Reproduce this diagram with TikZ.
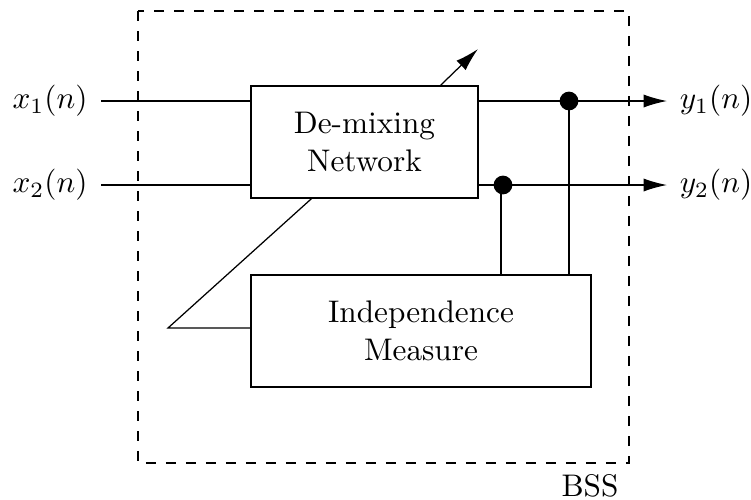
\documentclass[tikz,border=0pt]{standalone}
\usetikzlibrary{arrows.meta}
\begin{document}
\begin{tikzpicture}[x=0.32pt,y=-0.32pt,
  blk/.style={draw,line width=0.4pt,minimum width=227*0.32pt,minimum height=112*0.32pt,align=center,inner sep=0pt},
  wire/.style={line width=0.4pt},
  arr/.style={wire,-{Latex[length=7.5pt,width=4.2pt]}},
  jdot/.style={circle,fill,inner sep=0pt,minimum size=6pt},
  lbl/.style={inner sep=0pt}]
\useasboundingbox (0,0) rectangle (751,499);
% outer BSS boundary
\draw[line width=0.4pt,dash pattern=on 3.2pt off 3.2pt] (138,11) rectangle (629,463);
\node[lbl] (bss) at (590,486) {BSS};
% blocks
\node[blk] (dmx) at (364.5,142) {De-mixing\\Network};
\node[blk,minimum width=340*0.32pt] (ind) at (421,331) {Independence\\Measure};
% inputs
\node[lbl] (x1) at (50,101) {$x_1(n)$};
\node[lbl] (x2) at (50,185) {$x_2(n)$};
\coordinate (x1s) at (101,101);
\coordinate (x2s) at (101,185);
\draw[wire] (x1s) -- (x1s -| dmx.west);
\draw[wire] (x2s) -- (x2s -| dmx.west);
% outputs
\node[lbl] (y1) at (716,101) {$y_1(n)$};
\node[lbl] (y2) at (716,185) {$y_2(n)$};
\coordinate (y1e) at (667,101);
\coordinate (y2e) at (667,185);
\draw[arr] (dmx.east |- y1e) -- (y1e);
\draw[arr] (dmx.east |- y2e) -- (y2e);
% taps to the independence measure
\node[jdot] (j1) at (569,101) {};
\node[jdot] (j2) at (503,185) {};
\draw[wire] (j1.center) -- (j1.center |- ind.north);
\draw[wire] ([xshift=-0.64pt]j2.center) -- ([xshift=-0.64pt]j2.center |- ind.north);
% adaptation arrow
\coordinate (adj) at (478,49);
\draw[arr] ([xshift=76*0.32pt]dmx.north) -- (adj);
% feedback
\coordinate (fb) at (168,328);
\draw[wire] (ind.west |- fb) -- (fb) -- ([xshift=-53*0.32pt]dmx.south);
\end{tikzpicture}
\end{document}
